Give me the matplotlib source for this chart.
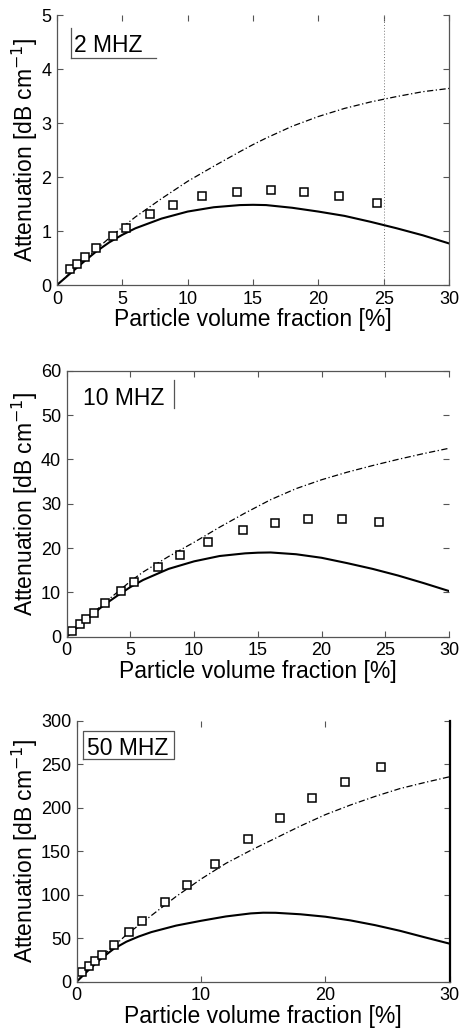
import numpy as np
import matplotlib
matplotlib.use("Agg")
import matplotlib.pyplot as plt

plt.rcParams['font.family'] = ['Liberation Sans', 'DejaVu Sans']

# ---------------- data ----------------
curve_x = [0, 1, 2, 3, 4, 5, 6, 8, 10, 12, 14, 15, 16, 18, 20, 22, 24, 26, 28, 30]

# 2 MHz
meas_x_2 = [1.02, 1.53, 2.12, 3.01, 4.26, 5.28, 7.14, 8.9, 11.1, 13.8, 16.4, 18.9, 21.6, 24.5]
meas_y_2 = [0.29, 0.38, 0.51, 0.68, 0.90, 1.06, 1.31, 1.48, 1.64, 1.73, 1.76, 1.72, 1.64, 1.52]
solid_2 = [0, 0.21, 0.42, 0.62, 0.79, 0.93, 1.05, 1.23, 1.36, 1.44, 1.48, 1.485, 1.48, 1.43, 1.36, 1.28, 1.17, 1.05, 0.92, 0.77]
dash_2 = [0, 0.22, 0.44, 0.66, 0.87, 1.07, 1.26, 1.60, 1.92, 2.20, 2.47, 2.60, 2.72, 2.94, 3.12, 3.27, 3.39, 3.49, 3.58, 3.64]

# 10 MHz
meas_x_10 = [0.42, 1.05, 1.52, 2.14, 3.0, 4.26, 5.31, 7.14, 8.9, 11.1, 13.8, 16.35, 18.96, 21.6, 24.5]
meas_y_10 = [1.35, 2.86, 3.98, 5.34, 7.5, 10.3, 12.4, 15.7, 18.4, 21.4, 24.1, 25.7, 26.5, 26.5, 25.8]
solid_10 = [0, 2.5, 5.0, 7.3, 9.3, 11.2, 12.8, 15.3, 17.0, 18.2, 18.8, 18.95, 19.0, 18.6, 17.8, 16.6, 15.3, 13.8, 12.1, 10.3]
dash_10 = [0, 2.6, 5.2, 7.7, 10.1, 12.5, 14.6, 18.1, 21.3, 24.7, 27.9, 29.4, 30.9, 33.4, 35.4, 37.1, 38.6, 40.0, 41.3, 42.5]

# 50 MHz
meas_x_50 = [0.40, 1.02, 1.50, 2.06, 2.98, 4.24, 5.28, 7.13, 8.9, 11.1, 13.75, 16.35, 18.9, 21.6, 24.45]
meas_y_50 = [10.7, 18.4, 23.8, 30.6, 42.1, 57.5, 70.1, 91.2, 111.5, 135.2, 163.6, 187.7, 211.5, 229.1, 246.4]
solid_50 = [0, 14, 27, 38, 46, 52, 57, 64.5, 70, 75, 78.5, 79.3, 79.2, 77.5, 74.7, 70.5, 65, 58.5, 51, 43.7]
dash_50 = [0, 16, 29, 41, 54, 65, 76, 98, 118, 136, 151, 158, 165, 179, 192, 203, 213, 222, 229, 235.6]

labels = ['2 MHZ', '10 MHZ', '50 MHZ']
xticks_list = [[0, 5, 10, 15, 20, 25, 30], [0, 5, 10, 15, 20, 25, 30], [0, 10, 20, 30]]
yticks_list = [[0, 1, 2, 3, 4, 5], [0, 10, 20, 30, 40, 50, 60], [0, 50, 100, 150, 200, 250, 300]]
ylims = [5, 60, 300]

# ---------------- figure ----------------
W, H = 460, 1028
fig = plt.figure(figsize=(W / 100, H / 100), dpi=100)

# axes pixel boxes: left, right, top, bottom
boxes = [(57, 449, 15, 285), (66.7, 449, 370.7, 636.7), (76.7, 449.7, 720.7, 981.7)]
TFS = 13
LFS = 16.5

data = [
    (meas_x_2, meas_y_2, solid_2, dash_2),
    (meas_x_10, meas_y_10, solid_10, dash_10),
    (meas_x_50, meas_y_50, solid_50, dash_50),
]

axes = []
for i, (l, r, t, b) in enumerate(boxes):
    ax = fig.add_axes([l / W, 1 - b / H, (r - l) / W, (b - t) / H])
    axes.append(ax)
    mx, my, sol, dsh = data[i]
    ax.plot(curve_x, sol, color='black', lw=1.5, solid_joinstyle='round')
    ax.plot(curve_x, dsh, color='black', lw=0.9, linestyle=(0, (5, 2, 1, 2)))
    ax.plot(mx, my, linestyle='none', marker='s', markersize=5.5,
            markerfacecolor='white', markeredgecolor='black', markeredgewidth=1.1)
    ax.set_xlim(0, 30)
    ax.set_ylim(0, ylims[i])
    ax.set_xticks(xticks_list[i])
    ax.set_yticks(yticks_list[i])
    ax.tick_params(direction='in', length=4, width=0.8, color='#555555',
                   top=True, right=True, labelsize=TFS, pad=4)
    for s in ax.spines.values():
        s.set_color('#555555')
        s.set_linewidth(0.9)
    ax.set_xlabel('Particle volume fraction [%]', fontsize=LFS, labelpad=0.5)
    ax.set_ylabel('Attenuation [dB cm$^{-1}$]', fontsize=LFS)
    ax.yaxis.set_label_coords((40 - l) / (r - l), 0.5)

# scan-like spine details
axes[0].spines['top'].set_visible(False)
axes[0].axvline(25, color='#777777', lw=0.7, linestyle=(0, (1, 2)))
axes[1].spines['right'].set_visible(False)
axes[2].spines['top'].set_visible(False)
axes[2].spines['right'].set_color('black')
axes[2].spines['right'].set_linewidth(1.6)

# panel labels
a = axes[0]
a.text(0.0434, 0.864, labels[0], transform=a.transAxes, fontsize=LFS, va='baseline', ha='left')
a.plot([0.035, 0.035], [0.952, 0.8396], transform=a.transAxes, color='#555555', lw=0.9, clip_on=False)
a.plot([0.035, 0.2526], [0.8396, 0.8396], transform=a.transAxes, color='#555555', lw=0.9, clip_on=False)

a = axes[1]
a.text(0.0434, 0.871, labels[1], transform=a.transAxes, fontsize=LFS, va='baseline', ha='left')
a.plot([0.2815, 0.2815], [0.965, 0.86], transform=a.transAxes, color='#555555', lw=0.9, clip_on=False)

a = axes[2]
a.text(0.0276, 0.8686, labels[2], transform=a.transAxes, fontsize=LFS, va='baseline', ha='left')
bx = [0.0177, 0.2617, 0.2617, 0.0177, 0.0177]
by = [0.853, 0.853, 0.9605, 0.9605, 0.853]
a.plot(bx, by, transform=a.transAxes, color='#555555', lw=0.9, clip_on=False)

fig.savefig('out.png', dpi=100)
